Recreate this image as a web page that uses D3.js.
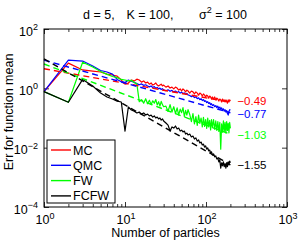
<!DOCTYPE html>
<html><head><meta charset="utf-8">
<script src="https://cdn.jsdelivr.net/npm/d3@7"></script>
<style>
body{margin:0;background:#fff}
svg{display:block}
text{font-family:"Liberation Sans",Arial,Helvetica,sans-serif;fill:#000}
</style>
</head><body>
<svg id="c" width="299" height="241"></svg>
<script>
// number of particles (x values)
const particles = [1,2,3,4,5,6,7,8,9,10,11,12,13,14,15,16,17,18,19,20,21,22,23,24,25,26,27,28,29,30,
  32,34,36,38,40,42,44,46,48,50,52,54,56,58,60,
  63,66,69,72,75,78,81,84,87,90,93,96,99,102,105,108,111,114,117,120,
  124,128,132,136,140,144,148,152,156,160,164,168,172,176,180,184,188,192,196,200];

// log10 of error for function mean
const mcLogErr = [-0.11,0.85,0.62,0.58,0.55,0.48,0.45,0.41,0.28,0.14,
  0.18,0.28,0.25,0.31,0.28,0.21,0.25,0.18,0.21,0.14,
  0.18,0.11,0.14,0.18,0.11,0.08,0.11,0.14,0.08,0.11,
  0.04,0.08,0.01,0.04,-0.02,0.04,0.01,-0.06,-0.02,-0.09,-0.02,-0.06,-0.12,-0.06,-0.09,
  -0.16,-0.09,-0.12,-0.19,-0.12,-0.16,-0.23,-0.16,-0.19,-0.26,-0.19,-0.23,-0.29,-0.23,-0.26,-0.33,-0.26,-0.29,-0.36,-0.29,
  -0.36,-0.29,-0.39,-0.33,-0.36,-0.43,-0.36,-0.39,-0.46,-0.36,-0.43,-0.39,-0.46,-0.39,-0.43,-0.50,-0.39,-0.46,-0.39,-0.43];
const qmcLogErr = [-0.11,0.95,0.92,0.75,0.6,0.55,0.48,0.3,0.22,0.2,
  0.28,0.24,0.2,0.16,0.12,0.15,0.1,0.12,0.08,0.05,
  0.08,0.03,0.06,0.0,0.03,-0.02,0.01,-0.04,-0.01,-0.05,
  -0.08,-0.05,-0.1,-0.07,-0.12,-0.09,-0.14,-0.11,-0.16,-0.13,-0.18,-0.15,-0.2,-0.17,-0.22,
  -0.24,-0.28,-0.25,-0.31,-0.29,-0.35,-0.32,-0.38,-0.35,-0.41,-0.38,-0.44,-0.42,-0.48,-0.45,-0.51,-0.48,-0.55,-0.52,-0.58,
  -0.55,-0.62,-0.58,-0.65,-0.6,-0.68,-0.63,-0.7,-0.66,-0.74,-0.69,-0.77,-0.72,-0.8,-0.75,-0.85,-0.9,-0.78,-0.72,-0.74];
const fwLogErr = [-0.11,-0.47,0.88,0.72,0.57,0.47,0.4,0.36,0.3,0.28,
  0.25,0.27,0.2,0.15,-0.45,-0.38,-0.5,-0.35,-0.52,-0.4,
  -0.55,-0.42,-0.5,-0.38,-0.56,-0.45,-0.6,-0.44,-0.55,-0.62,
  -0.6,-0.78,-0.55,-0.8,-0.62,-0.85,-0.66,-0.9,-0.7,-0.82,-0.65,-0.95,-0.74,-0.9,-0.72,
  -0.88,-1.12,-0.85,-1.2,-0.95,-1.25,-0.9,-1.18,-1.0,-1.3,-0.98,-1.28,-1.05,-1.35,-1.0,-1.3,-1.08,-1.4,-1.05,-1.32,
  -1.05,-1.38,-1.1,-1.42,-1.12,-1.45,-1.15,-2.05,-1.2,-1.48,-1.1,-1.45,-1.15,-1.5,-1.12,-1.42,-1.18,-1.5,-1.15,-1.35];
const fcfwLogErr = [-0.11,-0.47,0.3,0.08,-0.16,-0.29,-0.36,-0.43,-0.46,-1.44,
  -0.63,-0.73,-0.77,-0.83,-0.8,-0.87,-0.83,-0.9,-0.87,-0.93,
  -0.9,-0.97,-0.93,-1.0,-0.97,-1.03,-1.0,-1.07,-1.03,-1.1,
  -1.17,-1.24,-1.44,-1.3,-1.34,-1.27,-1.37,-1.34,-1.44,-1.41,-1.47,-1.44,-1.54,-1.51,-1.57,
  -1.54,-1.64,-1.61,-1.71,-1.67,-1.78,-1.74,-1.84,-1.81,-1.91,-1.88,-1.98,-1.94,-2.05,-2.01,-2.11,-2.08,-2.18,-2.14,-2.25,
  -2.21,-2.31,-2.28,-2.38,-2.35,-2.48,-2.41,-2.69,-2.51,-2.61,-2.48,-2.64,-2.54,-2.69,-2.51,-2.64,-2.48,-2.58,-2.45,-2.51];

const seriesNames = ["MC","QMC","FW","FCFW"];
const seriesColors = ["#ff0000","#0000ff","#00ff00","#000000"];
// fitted lines: log10 value at n = 1 and slope (rate)
const fitLogAtOne = [0.66,0.95,0.82,0.99];
const fitSlopes = [-0.49,-0.77,-1.03,-1.55];
const fitRange = [1,200];
const slopeLabels = ["\u22120.49","\u22120.77","\u22121.03","\u22121.55"];
const xTickExps = [0,1,2,3];
const yTickExps = [-4,-2,0,2];

const allSeries = [mcLogErr,qmcLogErr,fwLogErr,fcfwLogErr];

const FS = 12.5, FSX = 9;
const svg = d3.select("#c");
const L=44,R=287,T=29,B=207;
const x = d3.scaleLog().domain([1,1000]).range([L,R]);
const y = d3.scaleLog().domain([1e-4,1e2]).range([B,T]);

const xMajor = xTickExps.map(e=>Math.pow(10,e));
const xMinor = x.ticks().filter(v=>!xMajor.some(m=>Math.abs(m-v)<1e-9));
const yMajor = yTickExps.map(e=>Math.pow(10,e));

function clean(g){g.select(".domain").remove();g.selectAll(".tick line").attr("stroke","#000").attr("stroke-width",0.8);}
svg.append("g").attr("transform",`translate(0,${B})`).call(d3.axisBottom(x).tickValues(xMinor).tickSize(-3).tickFormat("")).call(clean);
svg.append("g").attr("transform",`translate(0,${B})`).call(d3.axisBottom(x).tickValues(xMajor).tickSize(-5).tickFormat("")).call(clean);
svg.append("g").attr("transform",`translate(0,${T})`).call(d3.axisTop(x).tickValues(xMinor).tickSize(-3).tickFormat("")).call(clean);
svg.append("g").attr("transform",`translate(0,${T})`).call(d3.axisTop(x).tickValues(xMajor).tickSize(-5).tickFormat("")).call(clean);
svg.append("g").attr("transform",`translate(${L},0)`).call(d3.axisLeft(y).tickValues(yMajor).tickSize(-5).tickFormat("")).call(clean);
svg.append("g").attr("transform",`translate(${R},0)`).call(d3.axisRight(y).tickValues(yMajor).tickSize(-5).tickFormat("")).call(clean);

// tick labels
xTickExps.forEach(e=>{
  const t = svg.append("text").attr("x",x(Math.pow(10,e))+1).attr("y",B+17).attr("text-anchor","middle").attr("font-size",FS);
  t.append("tspan").text("10");
  t.append("tspan").attr("dy",-5.5).attr("font-size",FSX).text(String(e).replace("-","\u2212"));
});
yTickExps.forEach(e=>{
  const t = svg.append("text").attr("x",L-6).attr("y",y(Math.pow(10,e))+6.5).attr("text-anchor","end").attr("font-size",FS);
  t.append("tspan").text("10");
  t.append("tspan").attr("dy",-5.5).attr("font-size",FSX).text(String(e).replace("-","\u2212"));
});

// data lines
const line = d3.line().x(d=>x(d[0])).y(d=>y(Math.pow(10,d[1])));
const plot = svg.append("g");
allSeries.forEach((s,i)=>{
  plot.append("path").datum(particles.map((n,k)=>[n,s[k]]))
    .attr("d",line).attr("fill","none").attr("stroke",seriesColors[i]).attr("stroke-width",1.2).attr("stroke-linejoin","round");
});
// fitted dashed lines and rate labels
const labelNudge = [-1.2,1.2,0,0];
fitSlopes.forEach((sl,i)=>{
  const pts = fitRange.map(n=>[n, fitLogAtOne[i]+sl*Math.log10(n)]);
  plot.append("path").datum(pts).attr("d",line).attr("fill","none")
    .attr("stroke",seriesColors[i]).attr("stroke-width",1.4).attr("stroke-dasharray","6,4");
  svg.append("text").attr("x",x(fitRange[1])+7).attr("y",y(Math.pow(10,pts[1][1]))+4.2+labelNudge[i])
    .attr("font-size",11.5).style("fill",seriesColors[i]).text(slopeLabels[i]);
});

// frame
svg.append("rect").attr("x",L).attr("y",T).attr("width",R-L).attr("height",B-T)
  .attr("fill","none").attr("stroke","#000").attr("stroke-width",1);

// legend
const lg = svg.append("g");
lg.append("rect").attr("x",47).attr("y",140).attr("width",68).attr("height",63)
  .attr("fill","#fff").attr("stroke","#000").attr("stroke-width",1);
seriesNames.forEach((nm,i)=>{
  const yy = 150 + i*15.3;
  lg.append("line").attr("x1",51).attr("x2",71).attr("y1",yy).attr("y2",yy).attr("stroke",seriesColors[i]).attr("stroke-width",1.4);
  lg.append("text").attr("x",73).attr("y",yy+4.5).attr("font-size",FS).text(nm);
});

// titles
const title = svg.append("text").attr("y",18.5).attr("font-size",FS);
title.append("tspan").attr("x",83).text("d = 5,");
title.append("tspan").attr("x",126.5).text("K = 100,");
title.append("tspan").attr("x",199).text("\u03c3");
title.append("tspan").attr("dy",-5.5).attr("font-size",FSX).text("2");
title.append("tspan").attr("dy",5.5).text(" = 100");

svg.append("text").attr("x",(L+R)/2).attr("y",237).attr("text-anchor","middle").attr("font-size",FS).text("Number of particles");
svg.append("text").attr("transform",`translate(13,112) rotate(-90)`).attr("text-anchor","middle").attr("font-size",FS).text("Err for function mean");
</script>
</body></html>
